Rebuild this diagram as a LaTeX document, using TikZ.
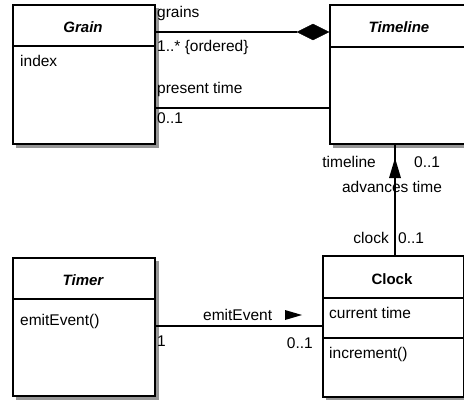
\documentclass[tikz,border=0pt]{standalone}
\usepackage{fontspec}
\setmainfont{Liberation Sans}
\usetikzlibrary{shapes.geometric}
\definecolor{shadowgray}{RGB}{150,150,150}
\begin{document}
\begin{tikzpicture}[x=1pt,y=-1pt,
  box/.style={draw=black,line width=1.6pt,fill=white,inner sep=0pt,anchor=north west},
  rule/.style={line width=1.4pt},
  conn/.style={line width=1.4pt},
  lbl/.style={inner sep=0pt,font=\fontsize{15.5}{17}\selectfont},
  head/.style={inner sep=0pt,font=\fontsize{15}{17}\selectfont\bfseries},
  ]
\fill[white] (0,0) rectangle (464,400);
\useasboundingbox (0,0) rectangle (464,400);
% shadows
\fill[shadowgray] (16,8) rectangle (159,148);
\fill[shadowgray] (333,8) rectangle (464,148);
\fill[shadowgray] (16,261) rectangle (159,400);
\fill[shadowgray] (326,259) rectangle (464,400);
% boxes
\node[box,minimum width=142pt,minimum height=139pt] (grain) at (12,4) {};
\node[box,minimum width=142pt,minimum height=139pt] (timeline) at (329,4) {};
\node[box,minimum width=142pt,minimum height=138pt] (timer) at (12,257) {};
\node[box,minimum width=141pt,minimum height=141pt] (clock) at (322,255) {};
% dividers
\draw[rule] (grain.west |- 0,46) -- (grain.east |- 0,46);
\draw[rule] (timeline.west |- 0,47) -- (timeline.east |- 0,47);
\draw[rule] (timer.west |- 0,299) -- (timer.east |- 0,299);
\draw[rule] (clock.west |- 0,298) -- (clock.east |- 0,298);
\draw[rule] (clock.west |- 0,338) -- (clock.east |- 0,338);
% headers
\node[head] (grainname) at (83,27) {\itshape Grain};
\node[head] (timelinename) at (399,27) {\itshape Timeline};
\node[head] (timername) at (83,280) {\itshape Timer};
\node[head] (clockname) at (392,279) {Clock};
% attributes / operations
\node[lbl,anchor=west] (index) at (20,61) {index};
\node[lbl,anchor=west] (emitop) at (20,321) {emitEvent()};
\node[lbl,anchor=west] (curtime) at (329,313) {current time};
\node[lbl,anchor=west] (incr) at (329,354) {increment()};
% composition
\node[diamond,fill=black,draw=black,inner sep=0pt,minimum width=32pt,minimum height=16pt] (dia) at (313,32) {};
\draw[conn] (grain.east |- dia.west) -- (dia.west);
\node[lbl,anchor=west] (grainslbl) at (157,13) {grains};
\node[lbl,anchor=west] (orderedlbl) at (157,47) {1..* \{ordered\}};
% present time
\coordinate (pt) at (0,108);
\draw[conn] (grain.east |- pt) -- (timeline.west |- pt);
\node[lbl,anchor=west] (presentlbl) at (157,89) {present time};
\node[lbl,anchor=west] (ptmult) at (157,118) {0..1};
% advances time
\coordinate (vx) at (395,0);
\draw[conn] (timeline.south -| vx) -- (clock.north -| vx);
\fill (395,158) -- (401,178) -- (389,178) -- cycle;
\node[lbl,anchor=east] (tllbl) at (376,162) {timeline};
\node[lbl,anchor=west] (tlmult) at (414,162) {0..1};
\node[lbl] (advlbl) at (392,187) {advances time};
\node[lbl,anchor=east] (clocklbl) at (389,238) {clock};
\node[lbl,anchor=west] (clockmult) at (398,238) {0..1};
% emitEvent
\coordinate (ey) at (0,326);
\draw[conn] (timer.east |- ey) -- (clock.west |- ey);
\fill (285,310) -- (302,315) -- (285,320) -- cycle;
\node[lbl,anchor=west] (emitlbl) at (203,315) {emitEvent};
\node[lbl,anchor=west] (onelbl) at (157,341) {1};
\node[lbl,anchor=east] (emitmult) at (313,343) {0..1};
\end{tikzpicture}
\end{document}
